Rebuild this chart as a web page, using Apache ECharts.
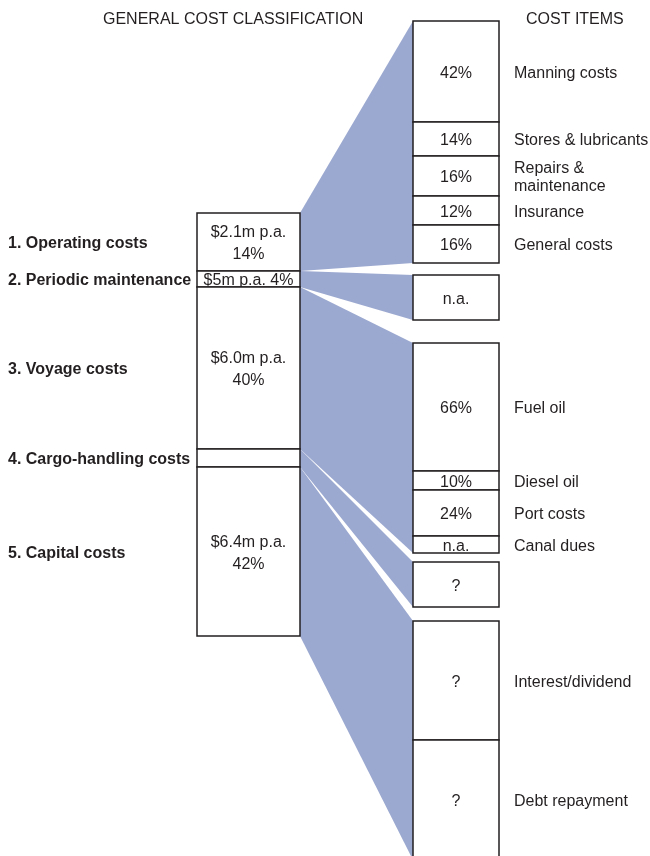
<!DOCTYPE html>
<html>
<head>
<meta charset="utf-8">
<script src="https://cdn.jsdelivr.net/npm/echarts@6/dist/echarts.min.js"></script>
<style>
html, body { margin: 0; padding: 0; background: #fff; }
#chart { width: 650px; height: 856px; }
</style>
</head>
<body>
<div id="chart"></div>
<script>
// left column: general cost classification
var classNames = ['1. Operating costs', '2. Periodic maintenance', '3. Voyage costs', '4. Cargo-handling costs', '5. Capital costs'];
var classLabels = ['$2.1m p.a.\n14%', '$5m p.a. 4%', '$6.0m p.a.\n40%', '', '$6.4m p.a.\n42%'];
var classHeights = [58, 16, 162, 18, 169];   // segment size in diagram units

// right column: cost items
var itemGroups = [0, 0, 0, 0, 0, 1, 2, 2, 2, 2, 3, 4, 4];
var itemShares = ['42%', '14%', '16%', '12%', '16%', 'n.a.', '66%', '10%', '24%', 'n.a.', '?', '?', '?'];
var itemNames = ['Manning costs', 'Stores & lubricants', 'Repairs &\nmaintenance', 'Insurance', 'General costs', '',
  'Fuel oil', 'Diesel oil', 'Port costs', 'Canal dues', '', 'Interest/dividend', 'Debt repayment'];
var itemHeights = [101, 34, 40, 29, 38, 45, 128, 19, 46, 17, 45, 119, 120];
var groupGaps = [0, 12, 23, 9, 14];          // space above each item group

// layout (diagram units)
var barLeft = 197, barRight = 300, boxLeft = 413, boxRight = 499;
var barTop = 213, itemTop = 21;
var font = '"Liberation Sans", Arial, Helvetica, sans-serif';
var ink = '#231f20';
var fanColor = '#9ba8d0';
var textDy = 2;

// stack the segments
var classStart = [];
var y = barTop;
classHeights.forEach(function (h, i) { classStart[i] = y; y += h; });

var itemStart = [];
y = itemTop;
itemHeights.forEach(function (h, i) {
  if (i > 0 && itemGroups[i] !== itemGroups[i - 1]) y += groupGaps[itemGroups[i]];
  itemStart[i] = y;
  y += h;
});
var groupTop = [], groupBottom = [];
itemGroups.forEach(function (g, i) {
  if (groupTop[g] === undefined) groupTop[g] = itemStart[i];
  groupBottom[g] = itemStart[i] + itemHeights[i];
});

var chart = echarts.init(document.getElementById('chart'));

var option = {
  animation: false,
  grid: { left: 0, right: 0, top: 0, bottom: 0 },
  xAxis: { type: 'value', min: 0, max: 650, show: false },
  yAxis: { type: 'value', min: 0, max: 856, inverse: true, show: false },
  graphic: [
    { type: 'text', left: 103, top: 12, style: { text: 'GENERAL COST CLASSIFICATION', font: '16px ' + font, fill: ink } },
    { type: 'text', left: 526, top: 12, style: { text: 'COST ITEMS', font: '16px ' + font, fill: ink } }
  ],
  series: [
    {
      // fans linking each class to its cost items
      type: 'custom',
      z: 1,
      data: classNames.map(function (n, i) { return [i]; }),
      renderItem: function (params, api) {
        var i = api.value(0);
        var pts = [
          api.coord([barRight, classStart[i]]),
          api.coord([boxLeft, groupTop[i]]),
          api.coord([boxLeft, groupBottom[i]]),
          api.coord([barRight, classStart[i] + classHeights[i]])
        ];
        return { type: 'polygon', shape: { points: pts }, style: { fill: fanColor } };
      }
    },
    {
      // classification bar
      type: 'custom',
      z: 2,
      data: classNames.map(function (n, i) { return [i]; }),
      renderItem: function (params, api) {
        var i = api.value(0);
        var p0 = api.coord([barLeft, classStart[i]]);
        var p1 = api.coord([barRight, classStart[i] + classHeights[i]]);
        var cy = (p0[1] + p1[1]) / 2 + textDy;
        return {
          type: 'group',
          children: [
            { type: 'rect', shape: { x: p0[0], y: p0[1], width: p1[0] - p0[0], height: p1[1] - p0[1] },
              style: { fill: '#fff', stroke: ink, lineWidth: 1.5 } },
            { type: 'text', style: { text: classLabels[i], x: (p0[0] + p1[0]) / 2, y: cy, align: 'center',
              verticalAlign: 'middle', font: '16px ' + font, lineHeight: 22, fill: ink } },
            { type: 'text', style: { text: classNames[i], x: 8, y: cy, align: 'left',
              verticalAlign: 'middle', font: 'bold 16px ' + font, fill: ink } }
          ]
        };
      }
    },
    {
      // cost item boxes
      type: 'custom',
      z: 2,
      data: itemNames.map(function (n, i) { return [i]; }),
      renderItem: function (params, api) {
        var i = api.value(0);
        var p0 = api.coord([boxLeft, itemStart[i]]);
        var p1 = api.coord([boxRight, itemStart[i] + itemHeights[i]]);
        var cy = (p0[1] + p1[1]) / 2 + textDy;
        return {
          type: 'group',
          children: [
            { type: 'rect', shape: { x: p0[0], y: p0[1], width: p1[0] - p0[0], height: p1[1] - p0[1] },
              style: { fill: '#fff', stroke: ink, lineWidth: 1.5 } },
            { type: 'text', style: { text: itemShares[i], x: (p0[0] + p1[0]) / 2, y: cy, align: 'center',
              verticalAlign: 'middle', font: '16px ' + font, fill: ink } },
            { type: 'text', style: { text: itemNames[i], x: p1[0] + 15, y: cy, align: 'left',
              verticalAlign: 'middle', font: '16px ' + font, lineHeight: 18, fill: ink } }
          ]
        };
      }
    }
  ]
};

chart.setOption(option);
</script>
</body>
</html>
